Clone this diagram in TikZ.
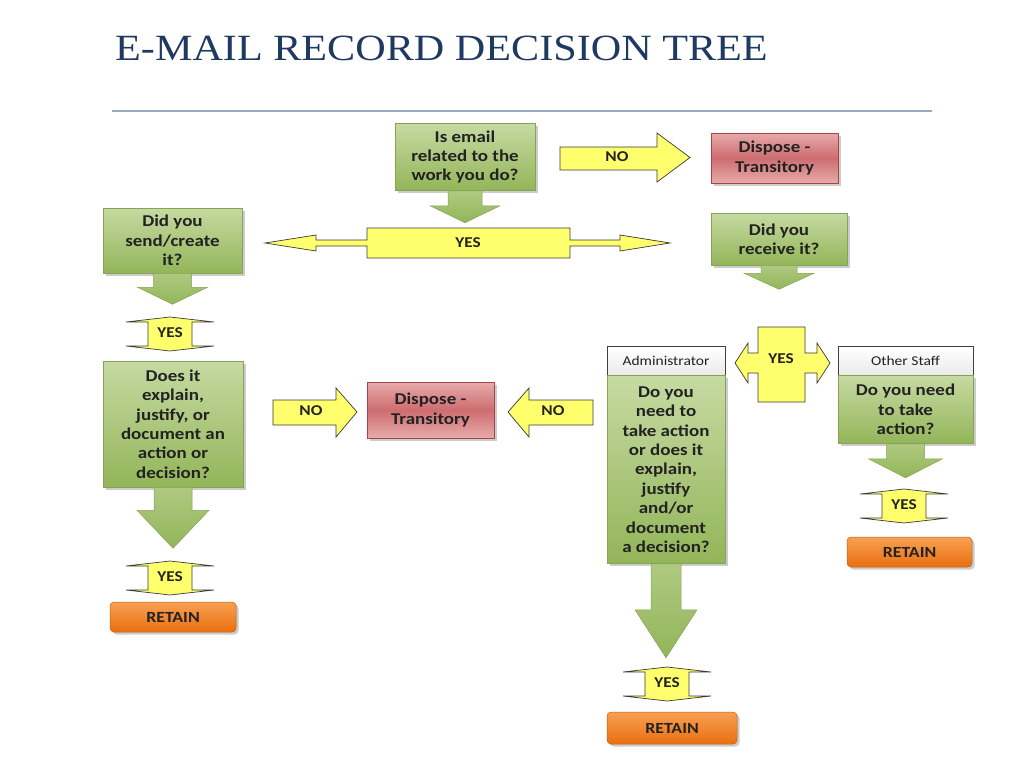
\documentclass[tikz,border=0pt]{standalone}
\usepackage{fontspec}
\newfontfamily\boxfont{Carlito}[FakeStretch=1.15]
\newfontfamily\titlefont{Liberation Serif}[FakeStretch=1.14]
\usetikzlibrary{
  positioning,
  shadows
}

\definecolor{titleblue}{HTML}{1F3A60}
\definecolor{rulegray}{HTML}{9AAAC4}
\definecolor{qtop}{HTML}{C6DAA2}
\definecolor{qbot}{HTML}{93B559}
\definecolor{qedge}{HTML}{86A453}
\definecolor{yel}{HTML}{FFFF6E}
\definecolor{yedge}{HTML}{3A3A3A}
\definecolor{rtop}{HTML}{E8AAAA}
\definecolor{rmid}{HTML}{CD6D70}
\definecolor{redge}{HTML}{A84448}
\definecolor{otop}{HTML}{F8A052}
\definecolor{obot}{HTML}{E96F10}
\definecolor{oedge}{HTML}{C45E0E}
\definecolor{ink}{HTML}{222222}

\begin{document}
\begin{tikzpicture}[
  x=1pt,
  y=-1pt,
  boxshadow/.style={drop shadow={shadow xshift=2.5pt, shadow yshift=-2.5pt,
                    opacity=0.4}},
  question/.style={draw=qedge, line width=0.5pt, top color=qtop,
                   bottom color=qbot, boxshadow, text=ink, align=center,
                   inner sep=0pt,
                   font=\boxfont\bfseries\fontsize{16.5}{19.4}\selectfont},
  greenarrow/.style={draw=qedge, line width=0.5pt, top color=qtop!55!qbot,
                     bottom color=qbot},
  choice/.style={draw=yedge, fill=yel, line width=0.7pt},
  choicetext/.style={text=ink, inner sep=0pt,
                     font=\boxfont\bfseries\fontsize{15}{15}\selectfont},
  dispose/.style={draw=redge, line width=0.5pt, top color=rtop,
                  bottom color=rtop, middle color=rmid, boxshadow, text=ink,
                  align=center, inner sep=0pt,
                  font=\boxfont\bfseries\fontsize{16.5}{19.4}\selectfont},
  retain/.style={draw=oedge, line width=0.5pt, rounded corners=4pt,
                 top color=otop, bottom color=obot, boxshadow, text=ink,
                 inner sep=0pt,
                 font=\boxfont\bfseries\fontsize{15.5}{15.5}\selectfont},
  role/.style={draw=black!75, line width=0.6pt, top color=white,
               bottom color=black!8, text=ink, inner sep=0pt,
               font=\boxfont\fontsize{13.5}{13.5}\selectfont}
]

  % Page and heading.
  \useasboundingbox (0,0) rectangle (1024,768);
  \fill[white] (0,0) rectangle (1024,768);
  \node[anchor=base west, inner sep=0pt, text=titleblue,
        font=\titlefont\fontsize{37}{37}\selectfont] (title) at (115,60)
    {E-MAIL RECORD DECISION TREE};
  \draw[rulegray, line width=1.2pt] (112,111) -- (932,111);

  % First question and its NO branch.
  \node[question, minimum width=140pt, minimum height=67pt] (email)
    at (465,157) {Is email\\related to the\\work you do?};
  \draw[greenarrow, shift={(email.south)}] (-17,0) -- (17,0) -- (17,15)
    -- (35,15) -- (0,32) -- (-35,15) -- (-17,15) -- cycle;
  \draw[choice] (560,147) -- (657,147) -- (657,133) -- (690,157.5)
    -- (657,182) -- (657,170) -- (560,170) -- cycle;
  \node[choicetext] (notop) at (617,157) {NO};
  \node[dispose, minimum width=127pt, minimum height=50pt] (disptop)
    at (774.5,158) {Dispose -\\Transitory};

  % YES splits into sent and received.
  \draw[choice] (265,243) -- (316,235) -- (316,240) -- (367,240)
    -- (367,228) -- (570,228) -- (570,240) -- (620,240) -- (620,235)
    -- (670,243) -- (620,251) -- (620,246) -- (570,246) -- (570,258)
    -- (367,258) -- (367,246) -- (316,246) -- (316,251) -- cycle;
  \node[choicetext] (yessplit) at (468,243) {YES};

  % Sent / created branch.
  \node[question, minimum width=139pt, minimum height=65pt] (send)
    at (172.5,240.5) {Did you\\send/create\\it?};
  \draw[greenarrow, shift={(send.south)}] (-19,0) -- (19,0) -- (19,14)
    -- (35,14) -- (0,31) -- (-35,14) -- (-19,14) -- cycle;
  \draw[choice, shift={(170,334)}] (-22,-12) -- (-44,-12) -- (0,-17)
    -- (44,-12) -- (22,-12) -- (22,12) -- (44,12) -- (0,17) -- (-44,12)
    -- (-22,12) -- cycle;
  \node[choicetext] (yessend) at (170,333) {YES};
  \node[question, minimum width=140pt, minimum height=126pt] (explain)
    at (173,424)
    {Does it\\explain,\\justify, or\\document an\\action or\\decision?};
  \draw[greenarrow, shift={(explain.south)}] (-19,0) -- (19,0) -- (19,23)
    -- (36,23) -- (0,61) -- (-36,23) -- (-19,23) -- cycle;
  \draw[choice, shift={(170,578)}] (-22,-12) -- (-44,-12) -- (0,-17)
    -- (44,-12) -- (22,-12) -- (22,12) -- (44,12) -- (0,17) -- (-44,12)
    -- (-22,12) -- cycle;
  \node[choicetext] (yesexplain) at (170,577) {YES};
  \node[retain, minimum width=126pt, minimum height=30pt] (retainleft)
    at (173,617) {RETAIN};

  % Shared NO target.
  \draw[choice] (273,400) -- (336,400) -- (336,388) -- (357,412)
    -- (336,437) -- (336,425) -- (273,425) -- cycle;
  \node[choicetext] (noleft) at (311,411) {NO};
  \node[dispose, minimum width=127pt, minimum height=56pt] (dispmid)
    at (430.5,410) {Dispose -\\Transitory};
  \draw[choice] (508,412) -- (529,388) -- (529,400) -- (593,400)
    -- (593,425) -- (529,425) -- (529,437) -- cycle;
  \node[choicetext] (noright) at (553,411) {NO};

  % Received branch.
  \node[question, minimum width=136pt, minimum height=52pt] (receive)
    at (779,239) {Did you\\receive it?};
  \draw[greenarrow, shift={(receive.south)}] (-18,0) -- (18,0) -- (18,8)
    -- (35,8) -- (0,24) -- (-35,8) -- (-18,8) -- cycle;
  \draw[choice] (735,363) -- (748,343) -- (748,353) -- (758,353)
    -- (758,327) -- (805,327) -- (805,353) -- (817,353) -- (817,343)
    -- (830,363) -- (817,383) -- (817,373) -- (805,373) -- (805,402)
    -- (758,402) -- (758,373) -- (748,373) -- (748,383) -- cycle;
  \node[choicetext] (yesrole) at (781,359) {YES};

  % Administrator column.
  \node[role, minimum width=118pt, minimum height=29pt] (admin)
    at (666,360.5) {Administrator};
  \node[question, minimum width=118pt, minimum height=188pt,
        below=0pt of admin] (adminq)
    {Do you\\need to\\take action\\or does it\\explain,\\justify\\and/or\\%
     document\\a decision?};
  \draw[greenarrow, shift={(adminq.south)}] (-15,0) -- (15,0) -- (15,46)
    -- (31,46) -- (0,94) -- (-31,46) -- (-15,46) -- cycle;
  \draw[choice, shift={(667,684)}] (-22,-12) -- (-44,-12) -- (0,-17)
    -- (44,-12) -- (22,-12) -- (22,12) -- (44,12) -- (0,17) -- (-44,12)
    -- (-22,12) -- cycle;
  \node[choicetext] (yesadmin) at (667,683) {YES};
  \node[retain, minimum width=130pt, minimum height=32pt] (retainmid)
    at (672,728) {RETAIN};

  % Other staff column.
  \node[role, minimum width=135pt, minimum height=29pt] (staff)
    at (905.5,360.5) {Other Staff};
  \node[question, minimum width=135pt, minimum height=68pt,
        below=0pt of staff] (staffq) {Do you need\\to take\\action?};
  \draw[greenarrow, shift={(staffq.south)}] (-19,0) -- (19,0) -- (19,15)
    -- (37,15) -- (0,34) -- (-37,15) -- (-19,15) -- cycle;
  \draw[choice, shift={(904,506)}] (-22,-12) -- (-44,-12) -- (0,-17)
    -- (44,-12) -- (22,-12) -- (22,12) -- (44,12) -- (0,17) -- (-44,12)
    -- (-22,12) -- cycle;
  \node[choicetext] (yesstaff) at (904,505) {YES};
  \node[retain, minimum width=125pt, minimum height=30pt] (retainright)
    at (909.5,552) {RETAIN};

\end{tikzpicture}
\end{document}
